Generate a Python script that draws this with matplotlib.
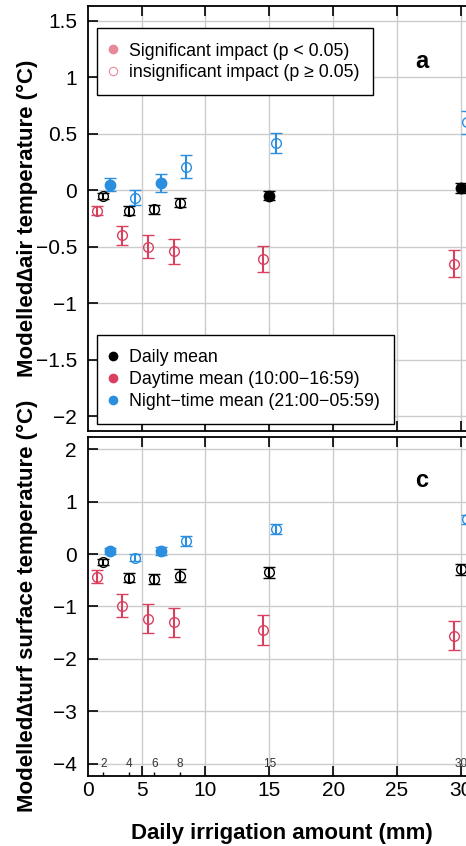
import matplotlib.pyplot as plt
from matplotlib.lines import Line2D
from matplotlib.ticker import FuncFormatter
from matplotlib.transforms import blended_transform_factory

plt.rcParams['font.family'] = ['Liberation Sans', 'DejaVu Sans']

irrigation = [2, 4, 6, 8, 15, 30]
x_offsets = {'daily': 0.0, 'day': -0.5, 'night': 0.5}
colors = {'daily': 'black', 'day': '#D8405E', 'night': '#2B8EDF'}

# panel a: modelled delta air temperature
air_daily = [-0.05, -0.18, -0.17, -0.11, -0.05, 0.02]
air_daily_err = [0.03, 0.04, 0.04, 0.04, 0.04, 0.04]
air_daily_sig = [False, False, False, False, True, True]
air_day = [-0.18, -0.40, -0.50, -0.54, -0.61, -0.65]
air_day_err = [0.04, 0.085, 0.10, 0.11, 0.115, 0.12]
air_day_sig = [False, False, False, False, False, False]
air_night = [0.05, -0.065, 0.065, 0.21, 0.42, 0.60]
air_night_err = [0.06, 0.066, 0.08, 0.10, 0.09, 0.10]
air_night_sig = [True, False, True, False, False, False]

# panel c: modelled delta turf surface temperature
turf_daily = [-0.15, -0.45, -0.48, -0.41, -0.35, -0.29]
turf_daily_err = [0.05, 0.09, 0.10, 0.12, 0.11, 0.10]
turf_daily_sig = [False, False, False, False, False, False]
turf_day = [-0.43, -0.99, -1.23, -1.30, -1.45, -1.56]
turf_day_err = [0.13, 0.22, 0.28, 0.28, 0.29, 0.28]
turf_day_sig = [False, False, False, False, False, False]
turf_night = [0.06, -0.07, 0.06, 0.25, 0.48, 0.66]
turf_night_err = [0.05, 0.07, 0.08, 0.10, 0.10, 0.08]
turf_night_sig = [True, False, True, False, False, False]

air = {'daily': (air_daily, air_daily_err, air_daily_sig),
       'day': (air_day, air_day_err, air_day_sig),
       'night': (air_night, air_night_err, air_night_sig)}
turf = {'daily': (turf_daily, turf_daily_err, turf_daily_sig),
        'day': (turf_day, turf_day_err, turf_day_sig),
        'night': (turf_night, turf_night_err, turf_night_sig)}

fig = plt.figure(figsize=(4.66, 8.46), dpi=100)
W = 466.0
H = 846.0
x_left = 0.8
x_right = 32.0
px_per_unit = 12.77
ax_w = (x_right - x_left) * px_per_unit / W

ax_a = fig.add_axes([88 / W, 415 / H, ax_w, 425 / H])
ax_c = fig.add_axes([88 / W, 70.3 / H, ax_w, 339 / H])


def draw_series(ax, data):
    for key in ['day', 'daily', 'night']:
        vals, errs, sig = data[key]
        c = colors[key]
        for xi, v, e, s in zip(irrigation, vals, errs, sig):
            ax.errorbar(xi + x_offsets[key], v, yerr=e, fmt='o', color=c,
                        ecolor=c, elinewidth=1.5, capsize=4, capthick=1.5,
                        markersize=7.5 if s else 7,
                        markerfacecolor=c if s else 'none',
                        markeredgecolor=c, markeredgewidth=1.0, zorder=3)


def style_axis(ax, ylim, yticks):
    ax.set_xlim(x_left, x_right)
    ax.set_ylim(*ylim)
    ax.set_xticks([5, 10, 15, 20, 25, 30])
    ax.set_yticks(yticks)
    ax.grid(True, color='#cccccc', lw=1.0, zorder=0)
    ax.set_axisbelow(True)
    ax.spines['right'].set_visible(False)
    for s in ['left', 'top', 'bottom']:
        ax.spines[s].set_linewidth(1.3)
    ax.tick_params(direction='in', top=True, right=False, length=7,
                   width=1.2, labelsize=15, pad=8)
    ax.yaxis.set_major_formatter(FuncFormatter(lambda v, p: ('%g' % v).replace('-', '\u2212')))


draw_series(ax_a, air)
draw_series(ax_c, turf)
style_axis(ax_a, (-2.13, 1.63), [-2, -1.5, -1, -0.5, 0, 0.5, 1, 1.5])
style_axis(ax_c, (-4.23, 2.24), [-4, -3, -2, -1, 0, 1, 2])
ax_a.tick_params(labelbottom=False)

# x tick labels in panel c (left edge labelled 0)
ax_c.set_xticks([x_left, 5, 10, 15, 20, 25, 30])
ax_c.set_xticklabels(['0', '5', '10', '15', '20', '25', '30'])
ax_c.tick_params(axis='x', pad=4)
first = ax_c.xaxis.get_major_ticks()[0]
first.tick1line.set_visible(False)
first.tick2line.set_visible(False)
first.gridline.set_visible(False)
ax_c.set_xticks([2, 4, 6, 8], minor=True)
ax_c.tick_params(which='minor', direction='in', bottom=True, top=False,
                 length=3, width=1.0)
trans = blended_transform_factory(ax_c.transData, ax_c.transAxes)
for xi in irrigation:
    ax_c.text(xi, 0.035, str(xi), transform=trans, ha='center', va='center',
              fontsize=8.5, color='#333333')

# panel letters
fig.text(421.7 / W, 1 - 61 / H, 'a', fontsize=17, fontweight='bold',
         ha='center', va='center')
fig.text(421.7 / W, 1 - 480 / H, 'c', fontsize=17, fontweight='bold',
         ha='center', va='center')

# legends
leg_kw = dict(fontsize=12.8, frameon=True, fancybox=False, edgecolor='black',
              framealpha=1, handlelength=0.2, handletextpad=0.8,
              borderpad=0.8, borderaxespad=0)
sig_handles = [
    Line2D([], [], marker='o', ls='none', color='#E8899B', markersize=7,
           markeredgewidth=0),
    Line2D([], [], marker='o', ls='none', markerfacecolor='none',
           markeredgecolor='#E8899B', markersize=6, markeredgewidth=0.8),
]
leg1 = ax_a.legend(sig_handles, ['Significant impact (p < 0.05)',
                                 'insignificant impact (p \u2265 0.05)'],
                   loc='upper left', bbox_to_anchor=(0.0218, 0.9475),
                   labelspacing=0.25, **leg_kw)
leg1.get_frame().set_linewidth(1.0)
ax_a.add_artist(leg1)

series_handles = [Line2D([], [], marker='o', ls='none', color=colors[k],
                         markersize=7, markeredgewidth=0)
                  for k in ['daily', 'day', 'night']]
leg2 = ax_a.legend(series_handles, ['Daily mean',
                                    'Daytime mean (10:00\u221216:59)',
                                    'Night\u2212time mean (21:00\u221205:59)'],
                   loc='lower left', bbox_to_anchor=(0.0218, 0.0165),
                   labelspacing=0.28, **leg_kw)
leg2.get_frame().set_linewidth(1.0)

# axis labels
fig.text(27 / W, 1 - 218.5 / H, 'Modelled\u2206air temperature (\u00b0C)',
         rotation=90, ha='center', va='center', fontsize=16, fontweight='bold')
fig.text(27 / W, 1 - 606 / H, 'Modelled\u2206turf surface temperature (\u00b0C)',
         rotation=90, ha='center', va='center', fontsize=16, fontweight='bold')
fig.text(282 / W, 1 - 833 / H, 'Daily irrigation amount (mm)',
         ha='center', va='center', fontsize=16, fontweight='bold')

fig.savefig('out.png', dpi=100)
